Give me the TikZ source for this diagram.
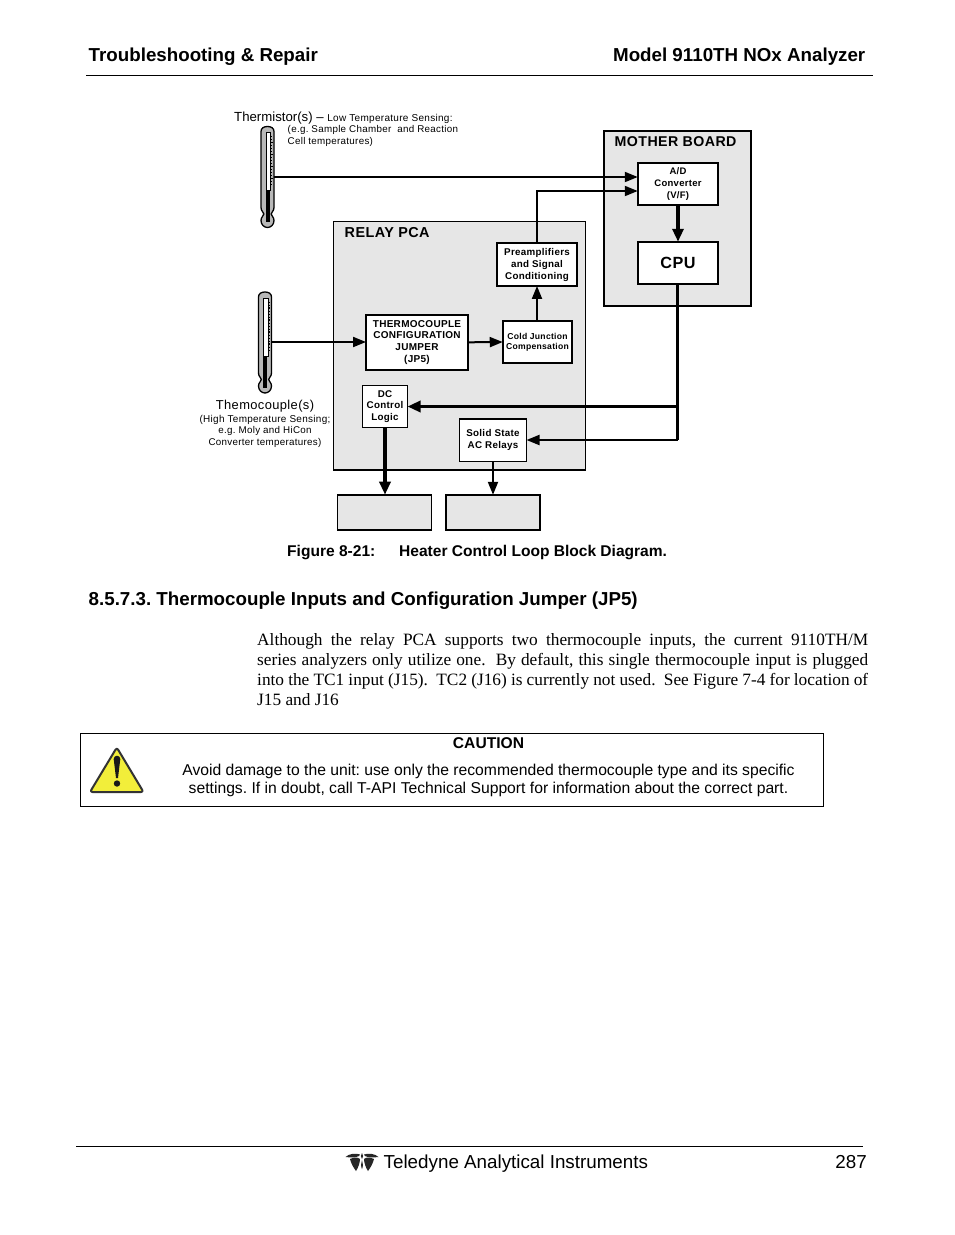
\documentclass[tikz,border=0pt]{standalone}
\usepackage{fontspec}
\setmainfont{Liberation Sans}
\newfontfamily\serifbody{Liberation Serif}
\newfontfamily\spaced[LetterSpace=3]{Liberation Sans}
\usetikzlibrary{arrows.meta,calc}
\frenchspacing
\newcommand{\fs}[2]{\fontsize{#1}{#2}\selectfont}
\definecolor{panelgray}{HTML}{E6E6E6}
\definecolor{thermogray}{HTML}{B8B8B8}
\definecolor{warnyellow}{HTML}{F2EE3A}
\tikzset{
  panel/.style={draw=black,fill=panelgray,line width=2pt,inner sep=0pt,outer sep=0pt,anchor=north west},
  blk/.style={draw=black,fill=white,line width=2pt,inner sep=0pt,outer sep=0pt,align=center,font=\spaced\bfseries\fs{9.8}{11.8}},
  thinblk/.style={blk,line width=1.2pt},
  wire/.style={line width=2pt,-{Triangle[length=13pt,width=10pt]}},
  bus/.style={line width=3.2pt,-{Triangle[length=13pt,width=11pt]}},
  plainwire/.style={line width=3.2pt},
  lbl/.style={inner sep=0pt,anchor=base west},
  clbl/.style={inner sep=0pt,anchor=base},
  rule/.style={line width=1.1pt},
  thermometer/.pic={
    \draw[fill=thermogray,line width=1.3pt]
      (-6.5,5) .. controls (-6.5,1.5) and (-3.5,0) .. (0,0) .. controls (3.5,0) and (6.5,1.5) .. (6.5,5)
      -- (6.5,81) .. controls (6.5,85) and (3.7,85) .. (3.7,87.5) .. controls (3.7,90) and (6.5,90) .. (6.5,94)
      .. controls (6.5,98) and (3.5,101) .. (0,101) .. controls (-3.5,101) and (-6.5,98) .. (-6.5,94)
      .. controls (-6.5,90) and (-3.7,90) .. (-3.7,87.5) .. controls (-3.7,85) and (-6.5,85) .. (-6.5,81) -- cycle;
    \fill[white] (-1.6,6) rectangle (2.8,64);
    \draw[line width=.5pt] (-1.6,6) rectangle (2.8,64);
    \fill[black] (-1.6,64) rectangle (2.4,95.5);
    \foreach \t in {10,13,...,58} {\draw[line width=.8pt] (2.8,\t) -- (4.6,\t);}
    \foreach \t in {16,28,40,52} {\draw[line width=1.1pt] (2.8,\t) -- (5.2,\t);}
  }
}
\begin{document}
\begin{tikzpicture}[x=1pt,y=-1pt]
\useasboundingbox (0,0) rectangle (954,1235);
\fill[white] (0,0) rectangle (954,1235);

% page header
\node[lbl,font=\bfseries\fs{18.75}{24}] (hleft) at (88.5,61) {Troubleshooting \& Repair};
\node[inner sep=0pt,anchor=base east,font=\bfseries\fs{18.75}{24}] (hright) at (865.5,61) {Model 9110TH NOx Analyzer};
\coordinate (hruleA) at (86,75.5); \coordinate (hruleB) at (873,75.5);
\draw[rule] (hruleA) -- (hruleB);

% panels
\node[panel,minimum width=147pt,minimum height=175pt] (mother) at (604,131) {};
\node[panel,line width=1pt,minimum width=252pt,minimum height=248.5pt] (relay) at (333.5,221.5) {};
\draw[line width=2pt] (relay.south west) -- (relay.south east);
\node[lbl,font=\spaced\bfseries\fs{14.2}{16}] (mtitle) at (614.5,146) {MOTHER BOARD};
\node[lbl,font=\spaced\bfseries\fs{14.4}{16}] (rtitle) at (344.5,237) {RELAY PCA};

% blocks
\node[blk,minimum width=80.5pt,minimum height=42.5pt,font=\spaced\bfseries\fs{9.5}{11.8}] (ad) at (678,184) {A/D\\Converter\\(V/F)};
\node[blk,minimum width=80.5pt,minimum height=42.5pt,font=\spaced\bfseries\fs{16.2}{18}] (cpu) at (678,263) {CPU};
\node[blk,minimum width=80.5pt,minimum height=42.5pt] (pre) at (537,264.7) {Preamplifiers\\and Signal\\Conditioning};
\node[blk,minimum width=69.5pt,minimum height=42.5pt,font=\spaced\bfseries\fs{8.6}{10}] (cold) at (537.5,342) {Cold Junction\\Compensation};
\node[blk,minimum width=102pt,minimum height=55pt,font=\spaced\bfseries\fs{10}{11.8}] (jump) at (417,342.3) {THERMOCOUPLE\\CONFIGURATION\\JUMPER\\(JP5)};
\node[thinblk,minimum width=45pt,minimum height=42pt] (dc) at (385,406.5) {DC\\Control\\Logic};
\node[thinblk,minimum width=67pt,minimum height=42.5pt] (ssr) at (493,440.2) {Solid State\\AC Relays};
\node[panel,line width=1.6pt,minimum width=94pt,minimum height=35.5pt] (heatA) at (337.5,494.7) {};
\node[panel,minimum width=94.5pt,minimum height=35.5pt] (heatB) at (445.8,494.8) {};

% thermometers
\pic at (267.5,126.5) {thermometer};
\pic at (265,292) {thermometer};
\coordinate (tmr) at (274,177);
\coordinate (tcp) at (271.5,342);
\coordinate (preup) at (537,191);
\coordinate (cpudc) at (677.5,406.5);
\coordinate (cpussr) at (677.5,440);

% labels
\node[lbl,font=\fs{13.2}{15}] (t1) at (234,121) {Thermistor(s) – {\spaced\fs{10}{12}Low Temperature Sensing:}};
\node[lbl,font=\spaced\fs{9.8}{12}] (t2) at (287.5,132) {(e.g. Sample Chamber\ \ and Reaction};
\node[lbl,font=\spaced\fs{9.8}{12}] (t3) at (287.5,144) {Cell temperatures)};
\node[clbl,font=\spaced\fs{12.9}{15}] (c1) at (265,409.5) {Themocouple(s)};
\node[clbl,font=\spaced\fs{9.95}{12}] (c2) at (265,422.5) {(High Temperature Sensing;};
\node[clbl,font=\spaced\fs{9.8}{12}] (c3) at (265,433.5) {e.g. Moly and HiCon};
\node[clbl,font=\spaced\fs{9.8}{12}] (c4) at (265,445) {Converter temperatures)};

% connectors
\draw[wire] (tmr) -- (tmr -| ad.west);
\draw[wire] (pre.north) -- (preup) -- (preup -| ad.west);
\draw[bus] (ad.south) -- (cpu.north);
\draw[wire] (cold.north -| pre.south) -- (pre.south);
\draw[wire] (tcp) -- (tcp -| jump.west);
\draw[wire] (jump.east) -- (cold.west);
\draw[plainwire] (cpu.south -| cpussr) -- (cpussr);
\draw[bus] (cpudc) -- (cpudc -| dc.east);
\draw[wire] (cpussr) -- (cpussr -| ssr.east);
\draw[bus] (dc.south) -- (dc.south |- heatA.north);
\draw[wire] (ssr.south) -- (ssr.south |- heatB.north);

% caption and heading
\node[lbl,font=\bfseries\fs{15.55}{18}] (figno) at (287,556) {Figure 8-21:};
\node[lbl,font=\bfseries\fs{15.55}{18}] (figcap) at (399,556) {Heater Control Loop Block Diagram.};
\node[lbl,font=\bfseries\fs{18.75}{22}] (sect) at (88.5,605) {8.5.7.3. Thermocouple Inputs and Configuration Jumper (JP5)};

% body paragraph
\node[inner sep=0pt,anchor=north west,align=left,font=\serifbody\fs{17.3}{20}] (body) at (257,633.5) {%
\makebox[611pt][s]{Although the relay PCA supports two thermocouple inputs, the current 9110TH/M}\\
\makebox[611pt][s]{series analyzers only utilize one.\ \ By default, this single thermocouple input is plugged}\\
\makebox[611pt][s]{into the TC1 input (J15).\ \ TC2 (J16) is currently not used.\ \ See Figure 7-4 for location of}\\
J15 and J16};

% caution box
\node[draw=black,line width=1pt,inner sep=0pt,outer sep=0pt,anchor=north west,minimum width=743pt,minimum height=73pt] (caution) at (80.5,733.5) {};
\node[clbl,font=\bfseries\fs{15.6}{18}] (ctitle) at (488.5,748) {CAUTION};
\node[clbl,font=\fs{15.7}{18}] (cl1) at (488.5,775.5) {Avoid damage to the unit: use only the recommended thermocouple type and its specific};
\node[clbl,font=\fs{15.7}{18}] (cl2) at (488.5,793.5) {settings. If in doubt, call T-API Technical Support for information about the correct part.};
\draw[fill=warnyellow,draw=black!80,line width=2pt,line join=round,rounded corners=2.5pt]
  (116.8,747.5) -- (143.5,792) -- (90,792) -- cycle;
\fill[black!90] (113.7,759) -- (120.3,759) -- (118,778) -- (116,778) -- cycle;
\fill[black!90] (117,759) circle (3.3);
\fill[black!90] (117,783.5) circle (3.2);

% page footer
\coordinate (fruleA) at (76,1146.5); \coordinate (fruleB) at (863,1146.5);
\draw[line width=.9pt] (fruleA) -- (fruleB);
\fill[black!85] (345.5,1157) .. controls (349,1153.5) and (356,1153) .. (360,1154.5) .. controls (360,1157) and (354,1158) .. (345.5,1157) -- cycle;
\fill[black!85] (378.5,1157) .. controls (375,1153.5) and (368,1153) .. (364,1154.5) .. controls (364,1157) and (370,1158) .. (378.5,1157) -- cycle;
\fill[black!85] (350,1159) .. controls (354,1157) and (358,1157) .. (360,1159) .. controls (360,1163) and (358,1168) .. (356,1171) .. controls (353,1167) and (351,1163) .. (350,1159) -- cycle;
\fill[black!85] (374,1159) .. controls (370,1157) and (366,1157) .. (364,1159) .. controls (364,1163) and (366,1168) .. (368,1171) .. controls (371,1167) and (373,1163) .. (374,1159) -- cycle;
\fill[black!85] (362,1153) .. controls (360.5,1155) and (360.5,1157) .. (362,1159) .. controls (363.5,1157) and (363.5,1155) .. (362,1153) -- cycle;
\fill[black!85] (362,1160) .. controls (360.5,1163) and (361,1167) .. (362,1169) .. controls (363,1167) and (363.5,1163) .. (362,1160) -- cycle;
\node[lbl,font=\fs{18.8}{22}] (ftext) at (383.5,1168) {Teledyne Analytical Instruments};
\node[inner sep=0pt,anchor=base east,font=\fs{18.8}{22}] (fpage) at (867,1168) {287};
\end{tikzpicture}
\end{document}
